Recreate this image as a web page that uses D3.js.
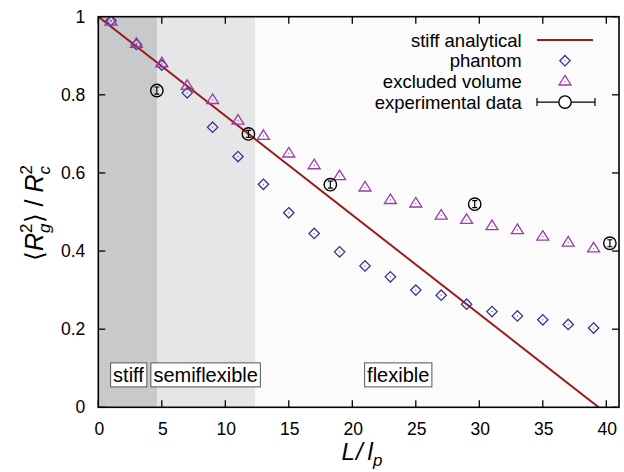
<!DOCTYPE html>
<html>
<head>
<meta charset="utf-8">
<script src="https://cdn.jsdelivr.net/npm/d3@7"></script>
<style>
  body { margin: 0; background: #fff; }
  svg { font-family: "Liberation Sans", Arial, Helvetica, sans-serif; }
</style>
</head>
<body>
<div class="svg-container"></div>
<script>
const width = 624, height = 472;
const margin = {left: 98.3, right: 5, top: 16.7, bottom: 64.7};

// data
const phantom_x = [1, 3, 5, 7, 9, 11, 13, 15, 17, 19, 21, 23, 25, 27, 29, 31, 33, 35, 37, 39];
const phantom_y = [0.990, 0.929, 0.876, 0.805, 0.717, 0.642, 0.571, 0.498, 0.445, 0.398,
                   0.362, 0.334, 0.300, 0.287, 0.264, 0.245, 0.234, 0.224, 0.212, 0.203];
const excluded_x = [1, 3, 5, 7, 9, 11, 13, 15, 17, 19, 21, 23, 25, 27, 29, 31, 33, 35, 37, 39];
const excluded_y = [0.988, 0.931, 0.881, 0.823, 0.787, 0.734, 0.695, 0.650, 0.620, 0.592,
                    0.563, 0.531, 0.522, 0.491, 0.480, 0.464, 0.454, 0.437, 0.422, 0.407];
const exp_x = [4.61, 11.82, 18.27, 29.64, 40.28];
const exp_y = [0.811, 0.700, 0.570, 0.520, 0.420];
const exp_err = [0.009, 0.009, 0.009, 0.009, 0.009];
const stiff_x = [0, 39.4];
const stiff_y = [1, 0];
const regions = [
  {name: "stiff", from: 0, to: 4.65, color: "#c8c9cb"},
  {name: "semiflexible", from: 4.65, to: 12.37, color: "#e5e6e8"},
  {name: "flexible", from: 12.37, to: 41, color: "#fbfbfb"}
];
const region_labels = [
  {text: "stiff", x: 0.97},
  {text: "semiflexible", x: 4.14},
  {text: "flexible", x: 20.97}
];
const x_ticks = [0, 5, 10, 15, 20, 25, 30, 35, 40];
const y_ticks = [0, 0.2, 0.4, 0.6, 0.8, 1];

const colRed = "#9b1c1c", colBlue = "#3b3590", colPurple = "#9c3cac";

const svg = d3.select('.svg-container').append('svg')
  .attr('width', width).attr('height', height);

const x = d3.scaleLinear().domain([0, 41]).range([margin.left, width - margin.right]);
const y = d3.scaleLinear().domain([0, 1]).range([height - margin.bottom, margin.top]);

// shaded regions
svg.selectAll('rect.region').data(regions).enter().append('rect')
  .attr('class', 'region')
  .attr('x', d => x(d.from)).attr('width', d => x(d.to) - x(d.from))
  .attr('y', y(1)).attr('height', y(0) - y(1))
  .attr('fill', d => d.color);

svg.append('clipPath').attr('id', 'clip').append('rect')
  .attr('x', x(0)).attr('y', y(1)).attr('width', x(41) - x(0)).attr('height', y(0) - y(1));

const g = svg.append('g').attr('clip-path', 'url(#clip)');

// analytical line
g.append('path')
  .datum(stiff_x.map((v, i) => [v, stiff_y[i]]))
  .attr('d', d3.line().x(d => x(d[0])).y(d => y(d[1])))
  .attr('fill', 'none').attr('stroke', colRed).attr('stroke-width', 2);

function diamond(sel, cx, cy) {
  const r = 5.2;
  sel.append('path').attr('d', `M${cx},${cy - r}L${cx + r},${cy}L${cx},${cy + r}L${cx - r},${cy}Z`)
    .attr('fill', 'none').attr('stroke', colBlue).attr('stroke-width', 1.3);
  sel.append('circle').attr('cx', cx).attr('cy', cy).attr('r', 0.6).attr('fill', colBlue);
}
function triangle(sel, cx, cy) {
  const r = 6;
  sel.append('path').attr('d', `M${cx},${cy - r}L${cx + r},${cy + r * 0.6}L${cx - r},${cy + r * 0.6}Z`)
    .attr('fill', 'none').attr('stroke', colPurple).attr('stroke-width', 1.3);
  sel.append('circle').attr('cx', cx).attr('cy', cy).attr('r', 0.6).attr('fill', colPurple);
}

phantom_x.forEach((v, i) => diamond(g, x(v), y(phantom_y[i])));
excluded_x.forEach((v, i) => triangle(g, x(v), y(excluded_y[i])));

// experimental points with error bars
const gExp = svg.append('g');
exp_x.forEach((v, i) => {
  const cx = x(v), cy = y(exp_y[i]);
  const top = y(exp_y[i] + exp_err[i]), bot = y(exp_y[i] - exp_err[i]);
  gExp.append('path')
    .attr('d', `M${cx},${top}V${bot}M${cx - 2.5},${top}H${cx + 2.5}M${cx - 2.5},${bot}H${cx + 2.5}`)
    .attr('stroke', '#000').attr('stroke-width', 1.2).attr('fill', 'none');
  gExp.append('circle').attr('cx', cx).attr('cy', cy).attr('r', 6.2)
    .attr('fill', 'none').attr('stroke', '#000').attr('stroke-width', 1.4);
});

// region labels with boxes
const labelY = 0.083;
region_labels.forEach(d => {
  const t = svg.append('text')
    .attr('x', x(d.x) + 2.5).attr('y', y(labelY) + 7)
    .attr('font-size', 20).text(d.text);
  const bb = t.node().getBBox();
  svg.insert('rect', () => t.node())
    .attr('x', x(d.x)).attr('y', y(labelY) - 12)
    .attr('width', bb.width + 5).attr('height', 24)
    .attr('fill', '#fff').attr('stroke', '#555').attr('stroke-width', 1);
});

// axes with mirrored inward ticks
const tickLen = 7;
const axG = svg.append('g').attr('stroke', '#000').attr('stroke-width', 1.3);
x_ticks.forEach(v => {
  axG.append('line').attr('x1', x(v)).attr('x2', x(v)).attr('y1', y(0)).attr('y2', y(0) - tickLen);
  axG.append('line').attr('x1', x(v)).attr('x2', x(v)).attr('y1', y(1)).attr('y2', y(1) + tickLen);
});
y_ticks.forEach(v => {
  axG.append('line').attr('x1', x(0)).attr('x2', x(0) + tickLen).attr('y1', y(v)).attr('y2', y(v));
  axG.append('line').attr('x1', x(41)).attr('x2', x(41) - tickLen).attr('y1', y(v)).attr('y2', y(v));
});
svg.append('rect')
  .attr('x', x(0)).attr('y', y(1)).attr('width', x(41) - x(0)).attr('height', y(0) - y(1))
  .attr('fill', 'none').attr('stroke', '#000').attr('stroke-width', 1.6);

svg.selectAll('text.xt').data(x_ticks).enter().append('text')
  .attr('class', 'xt').attr('x', d => x(d) + 1).attr('y', y(0) + 28)
  .attr('text-anchor', 'middle').attr('font-size', 17.5).text(d => d);
svg.selectAll('text.yt').data(y_ticks).enter().append('text')
  .attr('class', 'yt').attr('x', x(0) - 13).attr('y', d => y(d) + 6)
  .attr('text-anchor', 'end').attr('font-size', 17.5).text(d => d);

// x label
const xl = svg.append('text').attr('x', 362).attr('y', 460)
  .attr('text-anchor', 'middle').attr('font-size', 24).attr('font-style', 'italic');
xl.append('tspan').text('L');
xl.append('tspan').attr('dx', 1).text('/');
xl.append('tspan').attr('dx', 5).text('l');
xl.append('tspan').attr('font-size', 17).attr('dy', 6).text('p');

// y label
const yl = svg.append('text')
  .attr('transform', 'translate(43,213) rotate(-90)')
  .attr('text-anchor', 'middle').attr('font-size', 25);
yl.append('tspan').text('\u27E8');
yl.append('tspan').attr('font-style', 'italic').text('R');
yl.append('tspan').attr('font-size', 17).attr('dy', -11).text('2');
yl.append('tspan').attr('font-size', 17).attr('font-style', 'italic').attr('dx', -9.5).attr('dy', 18).text('g');
yl.append('tspan').attr('dy', -7).text('\u27E9 / ');
yl.append('tspan').attr('font-style', 'italic').text('R');
yl.append('tspan').attr('font-size', 17).attr('dy', -11).text('2');
yl.append('tspan').attr('font-size', 17).attr('font-style', 'italic').attr('dx', -9.5).attr('dy', 18).text('c');

// legend
const legendNames = ["stiff analytical", "phantom", "excluded volume", "experimental data"];
const legY = [40, 60.7, 81.4, 102.1];
const legG = svg.append('g');
legendNames.forEach((name, i) => {
  legG.append('text').attr('x', 521.7).attr('y', legY[i] + 6.5)
    .attr('text-anchor', 'end').attr('font-size', 18.5).text(name);
});
legG.append('line').attr('x1', 537).attr('x2', 593).attr('y1', legY[0]).attr('y2', legY[0])
  .attr('stroke', colRed).attr('stroke-width', 2);
diamond(legG, 565, legY[1]);
triangle(legG, 565, legY[2]);
legG.append('path')
  .attr('d', `M537,${legY[3]}H595M537,${legY[3] - 4}V${legY[3] + 4}M595,${legY[3] - 4}V${legY[3] + 4}`)
  .attr('stroke', '#000').attr('stroke-width', 1.2).attr('fill', 'none');
legG.append('circle').attr('cx', 565).attr('cy', legY[3]).attr('r', 6.2)
  .attr('fill', '#fff').attr('stroke', '#000').attr('stroke-width', 1.4);
</script>
</body>
</html>
